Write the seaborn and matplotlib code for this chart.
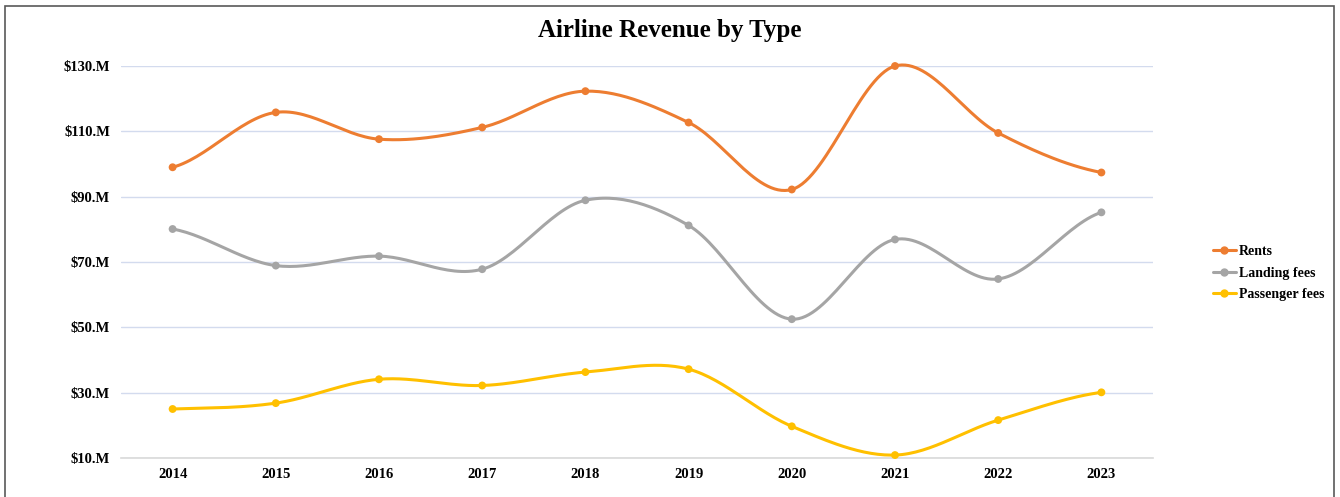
import numpy as np
import pandas as pd
import matplotlib.pyplot as plt
import seaborn as sns
from matplotlib.lines import Line2D
from matplotlib.patches import Rectangle

years = ["2014", "2015", "2016", "2017", "2018", "2019", "2020", "2021", "2022", "2023"]
rents = [99.0, 115.8, 107.6, 111.2, 122.3, 112.7, 92.2, 130.0, 109.5, 97.4]
landing_fees = [80.1, 68.9, 71.8, 67.8, 88.9, 81.2, 52.5, 76.9, 64.8, 85.2]
passenger_fees = [25.0, 26.8, 34.1, 32.2, 36.3, 37.2, 19.7, 10.9, 21.6, 30.1]

series_names = ["Rents", "Landing fees", "Passenger fees"]
palette = {"Rents": "#ED7D31", "Landing fees": "#A5A5A5", "Passenger fees": "#FFC000"}
y_ticks = [10, 30, 50, 70, 90, 110, 130]


def smooth(xs, ys, steps=30):
    # Catmull-Rom spline through the points, similar to Excel's smoothed line
    px = np.array(xs, dtype=float)
    py = np.array(ys, dtype=float)
    px = np.concatenate([[2 * px[0] - px[1]], px, [2 * px[-1] - px[-2]]])
    py = np.concatenate([[py[0]], py, [py[-1]]])
    out_x, out_y = [], []
    t = np.linspace(0, 1, steps, endpoint=False)
    for i in range(1, len(px) - 2):
        for arr, out in ((px, out_x), (py, out_y)):
            p0, p1, p2, p3 = arr[i - 1], arr[i], arr[i + 1], arr[i + 2]
            out.extend(0.5 * ((2 * p1) + (-p0 + p2) * t
                              + (2 * p0 - 5 * p1 + 4 * p2 - p3) * t ** 2
                              + (-p0 + 3 * p1 - 3 * p2 + p3) * t ** 3))
    out_x.append(px[-2])
    out_y.append(py[-2])
    return out_x, out_y


rows = []
curve_rows = []
for name, vals in zip(series_names, [rents, landing_fees, passenger_fees]):
    for i, v in enumerate(vals):
        rows.append({"pos": i, "value": v, "series": name})
    cx, cy = smooth(range(len(vals)), vals)
    for a, b in zip(cx, cy):
        curve_rows.append({"pos": a, "value": b, "series": name})

df = pd.DataFrame(rows)
curves = pd.DataFrame(curve_rows)

sns.set_style("white")
plt.rcParams["font.family"] = ["Liberation Serif", "DejaVu Serif"]
plt.rcParams["font.weight"] = "bold"
plt.rcParams["text.color"] = "black"
plt.rcParams["xtick.color"] = "black"
plt.rcParams["ytick.color"] = "black"

fig = plt.figure(figsize=(13.4, 4.97), dpi=100)
ax = fig.add_axes([121 / 1340, 1 - 458 / 497, (1153 - 121) / 1340, (458 - 66) / 497])

for name in series_names:
    sub = curves[curves["series"] == name]
    sns.lineplot(data=sub, x="pos", y="value", color=palette[name], linewidth=2.2,
                 sort=False, estimator=None, ax=ax, legend=False, clip_on=False)
sns.scatterplot(data=df, x="pos", y="value", hue="series", palette=palette,
                s=32, edgecolor="none", ax=ax, legend=False, zorder=5, clip_on=False)

ax.set_xlim(-0.5, len(years) - 0.5)
ax.set_ylim(10, 130)
ax.set_yticks(y_ticks)
ax.set_yticklabels([f"${v}.M" for v in y_ticks], fontsize=10.5, fontweight="bold")
ax.set_xticks(range(len(years)))
ax.set_xticklabels(years, fontsize=10.5, fontweight="bold")
ax.set_xticks(np.arange(-0.5, len(years)), minor=True)
ax.tick_params(axis="x", which="major", length=0, pad=7)
ax.tick_params(axis="x", which="minor", length=5, color="#D9D9D9", width=1)
ax.tick_params(axis="y", length=0, pad=8)
ax.set_xlabel("")
ax.set_ylabel("")
ax.grid(axis="y", color="#D3DBEE", linewidth=1)
ax.set_axisbelow(True)
for side in ["top", "right", "left"]:
    ax.spines[side].set_visible(False)
ax.spines["bottom"].set_color("#D9D9D9")
ax.spines["bottom"].set_linewidth(1.2)

fig.text(0.5, 1 - 30 / 497, "Airline Revenue by Type", ha="center", va="center",
         fontsize=18, fontweight="bold", color="black")

handles = [Line2D([0], [0], color=palette[n], marker="o", markersize=5, linewidth=2.2)
           for n in series_names]
fig.legend(handles, series_names, loc="center left", bbox_to_anchor=(1200 / 1340, 1 - 273 / 497),
           frameon=False, prop={"size": 10, "weight": "bold"}, handlelength=1.7,
           handletextpad=0.2, labelspacing=0.6)

fig.patches.append(Rectangle((5 / 1340, -0.02), 1329 / 1340, 1 - 5.5 / 497 + 0.02,
                             transform=fig.transFigure, fill=False,
                             edgecolor="#595959", linewidth=1.2))

fig.savefig("out.png", dpi=100)
